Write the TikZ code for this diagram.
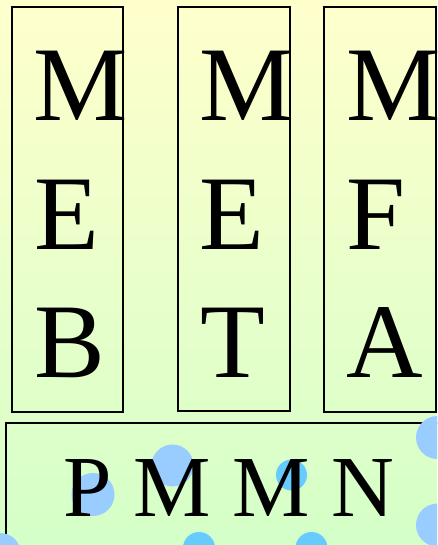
\documentclass[tikz,border=0pt]{standalone}
\usepackage{fontspec}
\setmainfont{Liberation Serif}
\definecolor{bgtop}{HTML}{FFFFCC}
\definecolor{bgbot}{HTML}{D4FFC8}
\definecolor{dotblue}{HTML}{99CCFF}
\definecolor{dotcyan}{HTML}{66CCFF}
\tikzset{
  colbox/.style={draw=black, line width=1.3pt, rectangle, inner sep=0pt},
  bigletter/.style={anchor=base west, inner sep=0pt, font=\fontsize{106}{106}\selectfont},
  rowtext/.style={anchor=base west, inner sep=0pt, font=\fontsize{87}{87}\selectfont},
  bluedot/.style={fill=dotblue, draw=none},
  cyandot/.style={fill=dotcyan, draw=none}
}
\begin{document}
\begin{tikzpicture}[x=1pt,y=-1pt]
\useasboundingbox (0,0) rectangle (437,545);
\clip (0,0) rectangle (437,545);
\shade[top color=bgtop, bottom color=bgbot] (0,0) rectangle (437,545);
% column boxes
\node[colbox, minimum width=111pt, minimum height=405pt] (b1) at (67.5,209.5) {};
\node[colbox, minimum width=112pt, minimum height=404pt] (b2) at (234,209) {};
\node[colbox, minimum width=112pt, minimum height=405pt] (b3) at (380,209.5) {};
% bottom box
\node[colbox, minimum width=460pt, minimum height=160pt] (bb) at (236,503) {};
% dots
\fill[bluedot] (93,494.5) circle (21.5) coordinate (d1);
\fill[bluedot] (172.5,465.5) circle (21) coordinate (d2);
\fill[cyandot] (291.5,475) circle (15.5) coordinate (d3);
\fill[cyandot] (199,548) circle (16) coordinate (d4);
\fill[cyandot] (311.5,548) circle (16) coordinate (d5);
\fill[bluedot] (0,554) circle (21) coordinate (d6);
\fill[bluedot] (437.5,437.5) circle (21.5) coordinate (d7);
\fill[bluedot] (437.5,525) circle (21.5) coordinate (d8);
% letters
\node[bigletter] (m1) at (33,121) {M};
\node[bigletter] (e1) at (34,249) {E};
\node[bigletter] (bl) at (34,377) {B};
\node[bigletter] (m2) at (199,121) {M};
\node[bigletter] (e2) at (199,249) {E};
\node[bigletter] (t2) at (200,377) {T};
\node[bigletter] (m3) at (346,121) {M};
\node[bigletter] (f3) at (346,249) {F};
\node[bigletter] (a3) at (346,377) {A};
\node[rowtext] (pmmn) at (63,516) {P M M N};
\end{tikzpicture}
\end{document}
